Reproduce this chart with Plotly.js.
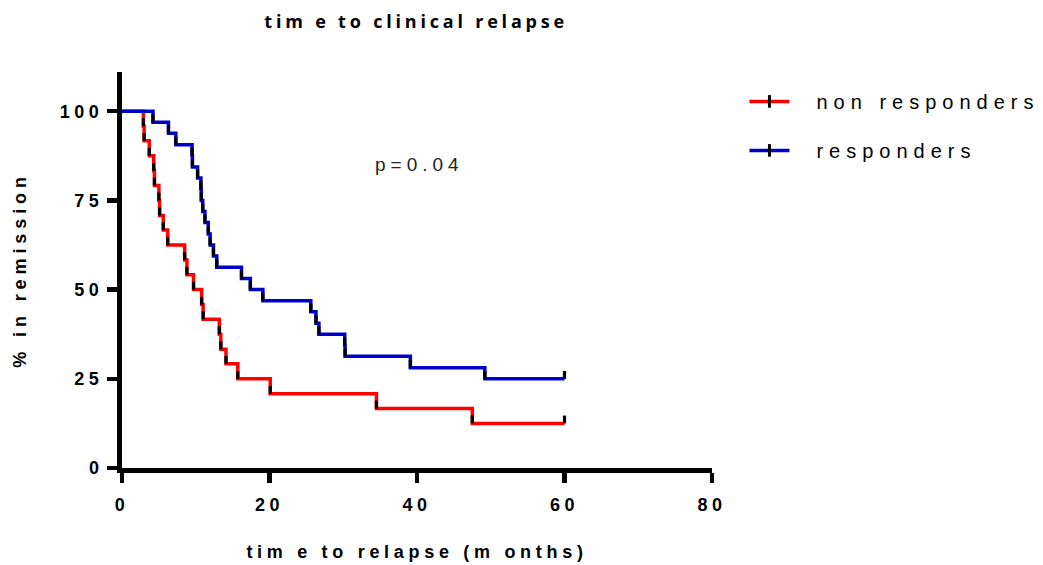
<!DOCTYPE html>
<html>
<head>
<meta charset="utf-8">
<script src="https://cdn.plot.ly/plotly-3.0.1.min.js"></script>
<style>
  html, body { margin: 0; padding: 0; background: #fff; }
  #chart { width: 1043px; height: 565px; }
  .gtitle { letter-spacing: 3.8px; }
  .xtitle { letter-spacing: 4.7px; }
  .ytitle { letter-spacing: 4.9px; }
  .xtick text, .ytick text { letter-spacing: 4.5px; }
  .legendtext { letter-spacing: 6px; transform: translate(22px, 0px); }
  .legend .scrollbox { clip-path: none !important; }
  .annotation-text { letter-spacing: 5px; }
</style>
</head>
<body>
<div id="chart"></div>
<script>
// ---- data (months, % in remission) ----
const nonRespTime = [0, 2.9, 3.0, 3.7, 4.3, 4.4, 5.0, 5.1, 5.6, 6.2, 8.5, 8.8, 9.7, 10.8, 11.0, 13.2, 13.4, 14.1, 15.7, 20.1, 34.5, 47.5, 60];
const nonRespSurv = [100, 95.8, 91.7, 87.5, 83.3, 79.2, 75.0, 70.8, 66.7, 62.5, 58.3, 54.2, 50.0, 45.8, 41.7, 37.5, 33.3, 29.2, 25.0, 20.8, 16.7, 12.5, 12.5];

const respTime = [0, 4.2, 6.3, 7.3, 9.5, 9.55, 10.25, 10.7, 10.75, 10.95, 11.25, 11.7, 11.95, 12.4, 12.85, 16.2, 17.4, 19.1, 25.6, 26.3, 26.7, 30.2, 30.25, 39.1, 49.2, 60];
const respSurv = [100, 96.9, 93.8, 90.6, 87.5, 84.4, 81.3, 78.1, 75.0, 71.9, 68.8, 65.6, 62.5, 59.4, 56.3, 53.1, 50.0, 46.9, 43.8, 40.6, 37.5, 34.4, 31.3, 28.1, 25.0, 25.0];

const seriesNames = ['non responders', 'responders'];
const xTicks = [0, 20, 40, 60, 80];
const yTicks = [0, 25, 50, 75, 100];
const pText = 'p=0.04';

const RED = '#ff0000', BLUE = '#0000cc';

function stepTrace(x, y, color) {
  return { x: x, y: y, type: 'scatter', mode: 'lines', line: { shape: 'hv', color: color, width: 3.5 },
           showlegend: false, hoverinfo: 'skip' };
}
function tickTrace(x, y) {
  return { x: x.slice(1), y: y.slice(1), type: 'scatter', mode: 'markers',
           marker: { size: 1, color: 'rgba(0,0,0,0)' },
           error_y: { type: 'constant', symmetric: false, value: 2.2, valueminus: 0, color: '#000', thickness: 3.2, width: 0 },
           showlegend: false, hoverinfo: 'skip' };
}
function legendTrace(name, color, grp) {
  return { x: [null], y: [null], type: 'scatter', mode: 'lines+markers', name: name, legendgroup: grp,
           line: { color: color, width: 3.5 },
           marker: { symbol: 'line-ns', size: 9, color: '#000', line: { color: '#000', width: 3 } } };
}

const data = [
  stepTrace(nonRespTime, nonRespSurv, RED),
  stepTrace(respTime, respSurv, BLUE),
  tickTrace(nonRespTime, nonRespSurv),
  tickTrace(respTime, respSurv),
  legendTrace(seriesNames[0], RED, 'a'),
  legendTrace(seriesNames[1], BLUE, 'b')
];

const tickFont = { family: 'Liberation Sans, Arial, sans-serif', size: 18, color: '#000', weight: 'bold' };
const axTitleFont = { family: 'Liberation Sans, Arial, sans-serif', size: 18, color: '#000', weight: 'bold' };

const layout = {
  width: 1043, height: 565,
  margin: { l: 122, r: 331, t: 72, b: 97 },
  paper_bgcolor: '#fff', plot_bgcolor: '#fff',
  title: { text: 'tim e to clinical relapse', x: 0.399, xanchor: 'center', y: 0.962, yanchor: 'middle',
           font: { family: 'Open Sans, sans-serif', size: 18, color: '#000', weight: 'bold' } },
  xaxis: {
    range: [0, 80], tickvals: xTicks, ticktext: xTicks.map(String),
    showline: true, linecolor: '#000', linewidth: 5, mirror: false,
    ticks: 'outside', ticklen: 10, tickwidth: 4.5, tickcolor: '#000', ticklabelstandoff: 6,
    showgrid: false, zeroline: false, tickfont: tickFont,
    title: { text: 'tim e to relapse (m onths)', standoff: 33, font: axTitleFont }
  },
  yaxis: {
    range: [0, 111], tickvals: yTicks, ticktext: yTicks.map(String),
    showline: true, linecolor: '#000', linewidth: 5, mirror: false,
    ticks: 'outside', ticklen: 10, tickwidth: 4.5, tickcolor: '#000',
    showgrid: false, zeroline: false, tickfont: tickFont,
    title: { text: '% in remission', standoff: 30, font: axTitleFont }
  },
  legend: {
    x: 1.055, y: 0.975, xanchor: 'left', yanchor: 'top', traceorder: 'grouped', tracegroupgap: 20,
    font: { family: 'Liberation Sans, Arial, sans-serif', size: 20, color: '#000' },
    bgcolor: 'rgba(0,0,0,0)', itemwidth: 40
  },
  annotations: [{
    x: 34.0, y: 85, xref: 'x', yref: 'y', xanchor: 'left', yanchor: 'middle', showarrow: false,
    text: pText, font: { family: 'Liberation Sans, Arial, sans-serif', size: 19, color: '#222' }
  }]
};

Plotly.newPlot('chart', data, layout, { displayModeBar: false, staticPlot: true });
</script>
</body>
</html>
